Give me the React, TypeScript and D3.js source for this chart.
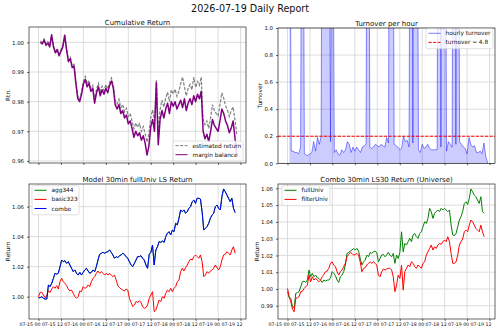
import React, { useEffect, useRef } from 'react';
import * as d3 from 'd3';

const W = 500;
const H = 332;
const FONT = 'DejaVu Sans';

// hourly series starting 07-15 01:00
const marginBalance = [
  1.0, 0.9995, 1.0008, 0.999, 0.9998, 0.9985, 1.0025, 0.9985, 0.9965, 0.9975,
  0.9955, 0.997, 0.9985, 1.0024, 0.9975, 0.9935, 0.9945, 0.9915, 0.992, 0.986,
  0.981, 0.98, 0.9825, 0.986, 0.9875, 0.985, 0.9862, 0.9835, 0.9845, 0.9795,
  0.983, 0.985, 0.982, 0.984, 0.9825, 0.9845, 0.983, 0.9855, 0.987, 0.9845,
  0.979, 0.9775, 0.979, 0.976, 0.977, 0.9745, 0.9755, 0.9725, 0.9735, 0.971,
  0.968, 0.97, 0.9685, 0.9695, 0.967, 0.9685, 0.966, 0.962, 0.965, 0.9715,
  0.974, 0.97, 0.9865, 0.9655, 0.974, 0.977, 0.9745, 0.9775, 0.9795, 0.976,
  0.98, 0.9785, 0.98, 0.9775, 0.979, 0.9805, 0.978, 0.981, 0.977, 0.9795,
  0.981, 0.979, 0.982, 0.98, 0.9825, 0.981, 0.9835, 0.97, 0.9675, 0.969,
  0.9665, 0.97, 0.974, 0.972, 0.971, 0.97, 0.9735, 0.9775, 0.976, 0.9735,
  0.972, 0.9695, 0.971, 0.9735, 0.968, 0.962,
];

const estimatedReturn = [
  1.0005, 1.0, 1.0012, 0.9996, 1.0003, 0.9992, 1.0028, 0.999, 0.997, 0.998,
  0.996, 0.9976, 0.999, 1.0026, 0.998, 0.994, 0.995, 0.9922, 0.9926, 0.9868,
  0.9818, 0.9808, 0.9833, 0.9868, 0.9885, 0.986, 0.9872, 0.9846, 0.9855, 0.9806,
  0.9842, 0.9862, 0.9832, 0.9852, 0.9838, 0.9858, 0.9843, 0.9866, 0.988, 0.9858,
  0.9805, 0.9792, 0.9808, 0.978, 0.979, 0.9766, 0.9778, 0.975, 0.976, 0.9735,
  0.9708, 0.9728, 0.9714, 0.9726, 0.97, 0.9716, 0.9692, 0.9664, 0.969, 0.9748,
  0.9772, 0.9735, 0.9872, 0.97, 0.9775, 0.9805, 0.9782, 0.9812, 0.9832, 0.98,
  0.984, 0.9826, 0.9842, 0.9818, 0.9834, 0.986, 0.9883, 0.985, 0.982, 0.9845,
  0.9858, 0.984, 0.9883, 0.9848, 0.9868, 0.9855, 0.9883, 0.974, 0.9722, 0.9735,
  0.971, 0.9745, 0.979, 0.977, 0.976, 0.9752, 0.979, 0.983, 0.9812, 0.9785,
  0.9772, 0.975, 0.977, 0.9782, 0.974, 0.969,
];

const hourlyTurnover = [
  3.0, 0.09, 0.09, 0.08, 0.08, 0.07, 0.12, 4.0, 0.07, 0.06,
  0.06, 0.07, 0.08, 0.16, 0.09, 0.19, 0.14, 0.2, 5.0, 6.0,
  5.0, 3.0, 0.16, 3.0, 0.08, 0.1, 0.07, 0.06, 0.1, 0.08,
  0.1, 0.16, 0.14, 0.08, 0.12, 0.09, 0.12, 0.1, 0.08, 0.12,
  0.13, 0.14, 5.0, 0.12, 0.11, 0.12, 0.14, 0.13, 0.12, 0.14,
  0.13, 0.12, 0.19, 0.15, 6.0, 4.0, 0.14, 0.13, 0.12, 0.1,
  0.11, 0.2, 0.16, 0.17, 0.12, 5.0, 0.15, 5.0, 4.0, 0.1,
  0.08, 0.14, 0.11, 0.12, 0.14, 0.11, 0.1, 0.1, 0.1, 0.1,
  6.0, 0.12, 6.0, 4.0, 0.09, 0.16, 0.14, 0.12, 5.0, 0.14,
  4.0, 0.16, 0.14, 0.12, 0.11, 0.07, 0.19, 0.14, 0.12, 0.13,
  0.08, 0.08, 0.09, 0.07, 0.15, 0.05, 0.0,
];

// daily turnover budget, shown per hour
const TURNOVER_LIMIT = 4.8;

// model returns, one point every 53 minutes from 07-15 00:00
const comboReturn = [
  0.9993, 0.9993, 1.0, 0.9989, 0.9984, 0.9984, 1.0078, 1.0067, 1.0089, 1.0122,
  1.0156, 1.015, 1.0156, 1.02, 1.0244, 1.0233, 1.024, 1.0222, 1.0233, 1.0211,
  1.0189, 1.0167, 1.0178, 1.0156, 1.0144, 1.0162, 1.0144, 1.0162, 1.0178, 1.0189,
  1.0171, 1.0156, 1.0162, 1.0178, 1.0167, 1.02, 1.0244, 1.0282, 1.0289, 1.0296,
  1.029, 1.0296, 1.03, 1.0311, 1.0296, 1.0278, 1.0256, 1.0267, 1.026, 1.0273,
  1.0278, 1.0289, 1.0282, 1.0267, 1.0256, 1.0233, 1.0211, 1.02, 1.0222, 1.0244,
  1.0267, 1.0267, 1.0273, 1.0256, 1.0244, 1.0211, 1.0189, 1.0282, 1.0296, 1.0344,
  1.0211, 1.0311, 1.0333, 1.0367, 1.0362, 1.0371, 1.0362, 1.04, 1.0422, 1.0433,
  1.0411, 1.0444, 1.0433, 1.0489, 1.0478, 1.0522, 1.0578, 1.0567, 1.0578, 1.0556,
  1.0567, 1.0589, 1.06, 1.0633, 1.0644, 1.0622, 1.0656, 1.0656, 1.0651, 1.0567,
  1.0444, 1.0456, 1.0467, 1.0489, 1.0522, 1.0544, 1.0556, 1.06, 1.0611, 1.0589,
  1.0578, 1.0667, 1.0718, 1.07, 1.0678, 1.0656, 1.0633, 1.0656, 1.0589, 1.056,
];

// agg344 tracks combo exactly, so it sits under the blue line
const agg344Return = [...comboReturn];

const basic323Return = [
  1.0, 1.0029, 1.0029, 1.0011, 0.9993, 1.0007, 1.0038, 1.0029, 1.0051, 1.0067,
  1.0056, 1.0073, 1.0051, 1.01, 1.0122, 1.01, 1.0089, 1.0073, 1.0051, 1.0038,
  1.0044, 1.0022, 1.0, 0.9989, 1.0, 1.0038, 1.0033, 1.0067, 1.0056, 1.006,
  1.0078, 1.0067, 1.01, 1.0122, 1.0133, 1.0156, 1.0171, 1.0156, 1.0167, 1.0156,
  1.0144, 1.0156, 1.0144, 1.0156, 1.0144, 1.0133, 1.0144, 1.0111, 1.0073, 1.006,
  1.0051, 1.0044, 1.0038, 1.0051, 1.0044, 0.9989, 0.9962, 0.9933, 0.9944, 0.9967,
  0.9962, 0.9971, 0.9962, 0.9933, 0.9922, 0.9927, 0.9944, 0.9989, 1.0011, 1.0033,
  0.99, 0.9911, 0.9944, 0.9978, 0.9967, 1.0, 0.9989, 1.0022, 1.0044, 1.0033,
  1.0056, 1.0033, 1.0056, 1.0067, 1.01, 1.0111, 1.0167, 1.0189, 1.0171, 1.0193,
  1.0211, 1.0233, 1.0251, 1.0244, 1.0267, 1.0278, 1.0267, 1.0256, 1.0278, 1.0233,
  1.0133, 1.0144, 1.0167, 1.0156, 1.0171, 1.0178, 1.0189, 1.0211, 1.0193, 1.0178,
  1.02, 1.0244, 1.0278, 1.0282, 1.03, 1.0289, 1.0278, 1.0311, 1.0333, 1.0289,
];

const fullUnivReturn = [
  0.9984, 0.9948, 0.9944, 0.9894, 0.9888, 0.9974, 0.9978, 0.9984, 1.0013, 1.0043,
  1.0047, 1.0039, 1.0053, 1.0113, 1.0073, 1.0093, 1.0073, 1.0083, 1.0067, 1.0063,
  1.0053, 1.0039, 1.0053, 1.0047, 1.0053, 1.0053, 1.0067, 1.0103, 1.0093, 1.0079,
  1.0053, 1.0039, 1.0073, 1.0083, 1.0103, 1.0143, 1.0212, 1.0218, 1.0226, 1.0232,
  1.0242, 1.0232, 1.0242, 1.0226, 1.0182, 1.0143, 1.0162, 1.0172, 1.0202, 1.0192,
  1.0218, 1.0212, 1.0222, 1.0226, 1.0218, 1.0162, 1.0182, 1.0202, 1.0206, 1.0192,
  1.0202, 1.0218, 1.0202, 1.0192, 1.0212, 1.0153, 1.0202, 1.0182, 1.0218, 1.0341,
  1.0222, 1.0272, 1.0262, 1.0282, 1.0302, 1.0282, 1.0322, 1.0331, 1.0312, 1.0302,
  1.0331, 1.0341, 1.0371, 1.0401, 1.0391, 1.0421, 1.0481, 1.0461, 1.0421, 1.0451,
  1.0461, 1.0471, 1.0461, 1.0481, 1.0471, 1.0481, 1.0471, 1.0461, 1.0471, 1.0381,
  1.0322, 1.0318, 1.0331, 1.0371, 1.0411, 1.0431, 1.0461, 1.051, 1.052, 1.0504,
  1.054, 1.0596, 1.058, 1.056, 1.055, 1.053, 1.051, 1.055, 1.0461, 1.0451,
];

const filterUnivReturn = [
  1.0003, 0.9954, 0.9924, 0.988, 0.9864, 0.9944, 0.9948, 0.9954, 0.9984, 0.9987,
  1.0003, 1.0013, 1.0023, 1.0083, 1.0043, 1.0073, 1.0053, 1.0063, 1.0053, 1.0043,
  1.0053, 1.0073, 1.0087, 1.0103, 1.0107, 1.0123, 1.0153, 1.0162, 1.0143, 1.0133,
  1.0103, 1.0083, 1.0103, 1.0113, 1.0133, 1.0153, 1.0192, 1.0206, 1.0218, 1.0212,
  1.0202, 1.0206, 1.0212, 1.0202, 1.0162, 1.0103, 1.0123, 1.0127, 1.0143, 1.0153,
  1.0162, 1.0153, 1.0162, 1.0153, 1.0143, 1.0083, 1.0073, 1.0103, 1.0119, 1.0113,
  1.0119, 1.0123, 1.0123, 1.0113, 1.0073, 0.9984, 1.0023, 1.0083, 1.0063, 1.0143,
  0.9993, 1.0103, 1.0123, 1.0143, 1.0133, 1.0162, 1.0153, 1.0133, 1.0123, 1.0143,
  1.0133, 1.0123, 1.0153, 1.0162, 1.0202, 1.0222, 1.0242, 1.0262, 1.0232, 1.0252,
  1.0242, 1.0262, 1.0272, 1.0266, 1.0282, 1.0292, 1.0282, 1.0312, 1.0282, 1.0212,
  1.0153, 1.0153, 1.0162, 1.0202, 1.0262, 1.0282, 1.0298, 1.0341, 1.0351, 1.0341,
  1.0381, 1.0411, 1.0401, 1.0381, 1.0361, 1.0351, 1.0341, 1.0381, 1.0341, 1.0312,
];

const dayStart = new Date(2026, 6, 15, 0, 0);
const timeDomain: [Date, Date] = [new Date(2026, 6, 14, 18, 55), new Date(2026, 6, 19, 14, 55)];
const xTickTimes = d3.range(10).map((i) => d3.timeHour.offset(dayStart, 12 * i));

const hourly = (n: number) => d3.range(n).map((i) => d3.timeHour.offset(dayStart, i + 1));
const every53 = (n: number) => d3.range(n).map((i) => d3.timeMinute.offset(dayStart, 53 * i));

interface Panel {
  key: string;
  left: number;
  top: number;
  width: number;
  height: number;
  yDomain: [number, number];
  yTicks: number[];
  yFormat: string;
  title: string;
  yLabel: string;
  yLabelX: number;
  xLabels: boolean;
}

const GRID = '#d4d4d4';
const INK = '#111';

function setupPanel(svg: d3.Selection<SVGSVGElement, unknown, null, undefined>, p: Panel) {
  const g = svg.append('g').attr('transform', `translate(${p.left},${p.top})`);
  const x = d3.scaleTime().domain(timeDomain).range([0, p.width]);
  const y = d3.scaleLinear().domain(p.yDomain).range([p.height, 0]);

  // grid
  g.append('g')
    .selectAll('line')
    .data(xTickTimes)
    .join('line')
    .attr('x1', (d) => x(d))
    .attr('x2', (d) => x(d))
    .attr('y1', 0)
    .attr('y2', p.height)
    .attr('stroke', GRID)
    .attr('stroke-width', 0.8);
  g.append('g')
    .selectAll('line')
    .data(p.yTicks)
    .join('line')
    .attr('x1', 0)
    .attr('x2', p.width)
    .attr('y1', (d) => y(d))
    .attr('y2', (d) => y(d))
    .attr('stroke', GRID)
    .attr('stroke-width', 0.8);

  g.append('clipPath')
    .attr('id', `clip-${p.key}`)
    .append('rect')
    .attr('width', p.width)
    .attr('height', p.height);
  const plot = g.append('g').attr('clip-path', `url(#clip-${p.key})`);

  return { g, plot, x, y };
}

function finishPanel(
  svg: d3.Selection<SVGSVGElement, unknown, null, undefined>,
  g: d3.Selection<SVGGElement, unknown, null, undefined>,
  x: d3.ScaleTime<number, number>,
  y: d3.ScaleLinear<number, number>,
  p: Panel
) {
  const yAxis = g
    .append('g')
    .call(
      d3.axisLeft(y).tickValues(p.yTicks).tickFormat(d3.format(p.yFormat) as any).tickSize(2).tickSizeOuter(0).tickPadding(3)
    );
  yAxis.select('.domain').remove();
  yAxis.attr('font-family', FONT).attr('font-size', 5.4);
  yAxis.selectAll('line').attr('stroke', '#000').attr('stroke-width', 0.6);
  yAxis.selectAll('text').attr('fill', INK);

  const fmt = d3.timeFormat('%m-%d %H');
  const xAxis = g
    .append('g')
    .attr('transform', `translate(0,${p.height})`)
    .call(
      d3
        .axisBottom(x)
        .tickValues(xTickTimes)
        .tickFormat((d) => (p.xLabels ? fmt(d as Date) : ''))
        .tickSize(2)
        .tickSizeOuter(0)
        .tickPadding(1.6)
    );
  xAxis.select('.domain').remove();
  xAxis.attr('font-family', FONT).attr('font-size', 4.7);
  xAxis.selectAll('line').attr('stroke', '#000').attr('stroke-width', 0.6);
  xAxis.selectAll('text').attr('fill', INK).attr('text-anchor', 'end').attr('dx', 1.5);

  // frame
  g.append('rect')
    .attr('width', p.width)
    .attr('height', p.height)
    .attr('fill', 'none')
    .attr('stroke', '#000')
    .attr('stroke-width', 0.6);

  svg
    .append('text')
    .attr('x', p.left + p.width / 2)
    .attr('y', p.top - 2.5)
    .attr('text-anchor', 'middle')
    .attr('font-family', FONT)
    .attr('font-size', 7)
    .attr('fill', INK)
    .text(p.title);

  svg
    .append('text')
    .attr('transform', `translate(${p.yLabelX},${p.top + p.height / 2}) rotate(-90)`)
    .attr('text-anchor', 'middle')
    .attr('dy', '0.35em')
    .attr('font-family', FONT)
    .attr('font-size', 5.8)
    .attr('fill', INK)
    .text(p.yLabel);
}

interface LegendItem {
  label: string;
  color: string;
  dash?: string;
  opacity?: number;
}

function drawLegend(
  svg: d3.Selection<SVGSVGElement, unknown, null, undefined>,
  left: number,
  top: number,
  width: number,
  items: LegendItem[]
) {
  const rowH = 9.1;
  const lg = svg.append('g').attr('transform', `translate(${left},${top})`);
  lg.append('rect')
    .attr('width', width)
    .attr('height', items.length * rowH + 1.8)
    .attr('rx', 1.5)
    .attr('fill', '#fff')
    .attr('fill-opacity', 0.8)
    .attr('stroke', '#cccccc')
    .attr('stroke-width', 0.6);
  items.forEach((it, i) => {
    const cy = 4.6 + i * rowH;
    lg.append('line')
      .attr('x1', 2.5)
      .attr('x2', 14.5)
      .attr('y1', cy)
      .attr('y2', cy)
      .attr('stroke', it.color)
      .attr('stroke-opacity', it.opacity ?? 1)
      .attr('stroke-width', 1)
      .attr('stroke-dasharray', it.dash ?? null);
    lg.append('text')
      .attr('x', 19.5)
      .attr('y', cy)
      .attr('dy', '0.35em')
      .attr('font-family', FONT)
      .attr('font-size', 5.8)
      .attr('fill', INK)
      .text(it.label);
  });
}

const panels: Record<string, Panel> = {
  cum: {
    key: 'cum', left: 29, top: 27, width: 217, height: 136,
    yDomain: [0.9593, 1.0052], yTicks: [0.96, 0.97, 0.98, 0.99, 1.0], yFormat: '.2f',
    title: 'Cumulative Return', yLabel: 'Rtn.', yLabelX: 7.5, xLabels: false,
  },
  turn: {
    key: 'turn', left: 278, top: 28, width: 217, height: 135.3,
    yDomain: [0, 1], yTicks: [0, 0.2, 0.4, 0.6, 0.8, 1.0], yFormat: '.1f',
    title: 'Turnover per hour', yLabel: 'Turnover', yLabelX: 259.5, xLabels: false,
  },
  model: {
    key: 'model', left: 29, top: 184, width: 217, height: 135,
    yDomain: [0.9851, 1.0751], yTicks: [1.0, 1.02, 1.04, 1.06], yFormat: '.2f',
    title: 'Model 30min fullUniv LS Return', yLabel: 'Return', yLabelX: 7.5, xLabels: true,
  },
  combo: {
    key: 'combo', left: 278, top: 184, width: 217, height: 135,
    yDomain: [0.9821, 1.0626], yTicks: [0.99, 1.0, 1.01, 1.02, 1.03, 1.04, 1.05, 1.06], yFormat: '.2f',
    title: 'Combo 30min LS30 Return (Universe)', yLabel: 'Return', yLabelX: 257, xLabels: true,
  },
};

export default function App() {
  const ref = useRef<SVGSVGElement>(null);

  useEffect(() => {
    if (!ref.current) return;
    const svg = d3.select(ref.current);
    svg.selectAll('*').remove();

    svg
      .append('text')
      .attr('x', W / 2)
      .attr('y', 11.5)
      .attr('text-anchor', 'middle')
      .attr('font-family', FONT)
      .attr('font-size', 9.6)
      .attr('fill', INK)
      .text('2026-07-19 Daily Report');

    // Cumulative return
    {
      const p = panels.cum;
      const { g, plot, x, y } = setupPanel(svg, p);
      const t = hourly(marginBalance.length);
      const line = d3.line<number>().x((_, i) => x(t[i])).y((d) => y(d));
      plot.append('path').attr('d', line(estimatedReturn)).attr('fill', 'none')
        .attr('stroke', '#808080').attr('stroke-width', 1.2).attr('stroke-dasharray', '3.2,1.4');
      plot.append('path').attr('d', line(marginBalance)).attr('fill', 'none')
        .attr('stroke', '#800080').attr('stroke-width', 1.5).attr('stroke-linejoin', 'round');
      finishPanel(svg, g, x, y, p);
      drawLegend(svg, 173, 141, 70, [
        { label: 'estimated return', color: '#808080', dash: '3.2,1.4' },
        { label: 'margin balance', color: '#800080' },
      ]);
    }

    // Turnover per hour
    {
      const p = panels.turn;
      const { g, plot, x, y } = setupPanel(svg, p);
      const t = hourly(hourlyTurnover.length);
      const area = d3.area<number>().x((_, i) => x(t[i])).y0(y(0)).y1((d) => y(d));
      const line = d3.line<number>().x((_, i) => x(t[i])).y((d) => y(d));
      plot.append('path').attr('d', area(hourlyTurnover)).attr('fill', '#0000ff').attr('fill-opacity', 0.2);
      plot.append('path').attr('d', line(hourlyTurnover)).attr('fill', 'none')
        .attr('stroke', '#0000ff').attr('stroke-opacity', 0.5).attr('stroke-width', 0.9);
      const limit = TURNOVER_LIMIT / 24;
      plot.append('line').attr('x1', 0).attr('x2', p.width).attr('y1', y(limit)).attr('y2', y(limit))
        .attr('stroke', '#ff0000').attr('stroke-width', 1).attr('stroke-dasharray', '3.2,1.4');
      finishPanel(svg, g, x, y, p);
      drawLegend(svg, 426, 28.7, 67, [
        { label: 'hourly turnover', color: '#0000ff', opacity: 0.5 },
        { label: `turnover = ${TURNOVER_LIMIT}`, color: '#ff0000', dash: '3.2,1.4' },
      ]);
    }

    // Model returns
    {
      const p = panels.model;
      const { g, plot, x, y } = setupPanel(svg, p);
      const t = every53(comboReturn.length);
      const line = d3.line<number>().x((_, i) => x(t[i])).y((d) => y(d));
      const series: [number[], string][] = [
        [agg344Return, '#008000'],
        [basic323Return, '#ff0000'],
        [comboReturn, '#0000ff'],
      ];
      series.forEach(([vals, color]) => {
        plot.append('path').attr('d', line(vals)).attr('fill', 'none').attr('stroke', color).attr('stroke-width', 1);
      });
      finishPanel(svg, g, x, y, p);
      drawLegend(svg, 32, 185.7, 47, [
        { label: 'agg344', color: '#008000' },
        { label: 'basic323', color: '#ff0000' },
        { label: 'combo', color: '#0000ff' },
      ]);
    }

    // Combo by universe
    {
      const p = panels.combo;
      const { g, plot, x, y } = setupPanel(svg, p);
      const t = every53(fullUnivReturn.length);
      const line = d3.line<number>().x((_, i) => x(t[i])).y((d) => y(d));
      plot.append('path').attr('d', line(fullUnivReturn)).attr('fill', 'none').attr('stroke', '#008000').attr('stroke-width', 1);
      plot.append('path').attr('d', line(filterUnivReturn)).attr('fill', 'none').attr('stroke', '#ff0000').attr('stroke-width', 1);
      finishPanel(svg, g, x, y, p);
      drawLegend(svg, 282, 185.7, 48, [
        { label: 'fullUniv', color: '#008000' },
        { label: 'filterUniv', color: '#ff0000' },
      ]);
    }
  }, []);

  return (
    <svg
      ref={ref}
      width={W}
      height={H}
      style={{ position: 'absolute', left: 0, top: 0, background: '#fff' }}
    />
  );
}
